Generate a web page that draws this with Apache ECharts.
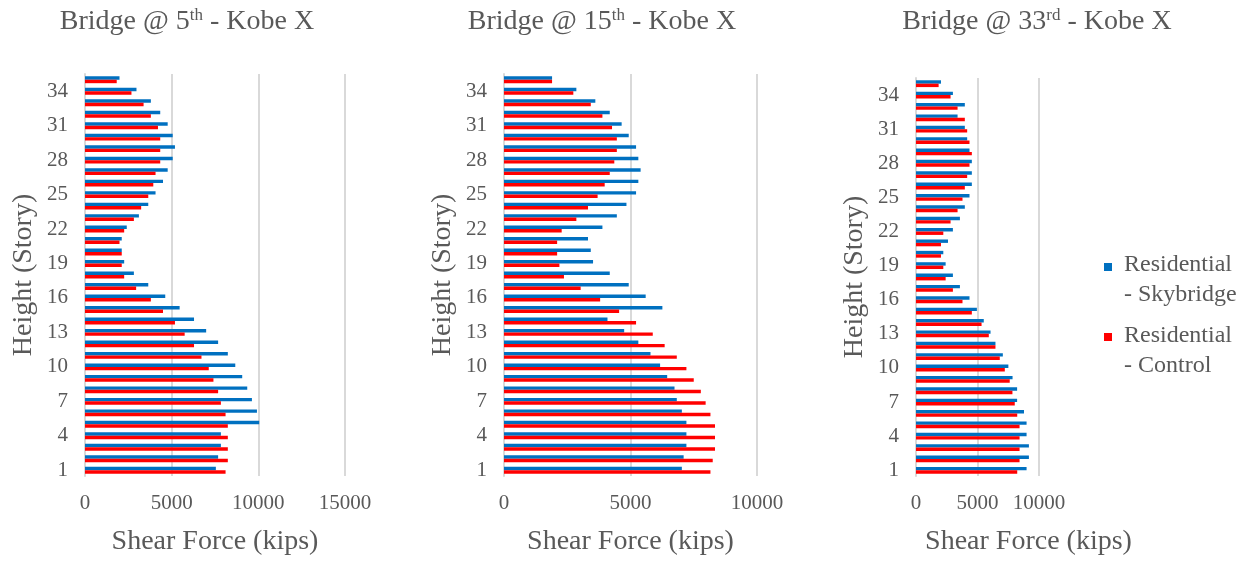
<!DOCTYPE html>
<html>
<head>
<meta charset="utf-8">
<script src="https://cdn.jsdelivr.net/npm/echarts@6/dist/echarts.min.js"></script>
<style>
html,body{margin:0;padding:0;background:#fff;}
#chart{width:1258px;height:561px;}
</style>
</head>
<body>
<div id="chart"></div>
<script>
// Stories (category axis), bottom to top
const stories = ['1','2','3','4','5','6','7','8','9','10','11','12','13','14','15','16','17','18','19','20','21','22','23','24','25','26','27','28','29','30','31','32','33','34','35'];

const seriesNames = ['Residential - Skybridge', 'Residential - Control'];
const panelTitles = ['5', '15', '33'];
const panelSuffix = ['th', 'th', 'rd'];
const xMax = [15000, 10000, 10000];

// Bridge @ 5th - Kobe X
const sky5 = [7550,7680,7840,7840,10050,9920,9630,9360,9070,8670,8240,7680,6990,6290,5460,4630,3650,2820,2260,2120,2120,2410,3110,3650,4070,4500,4770,5060,5190,5060,4770,4340,3800,2970,1990];
const ctl5 = [8110,8240,8240,8240,8240,8110,7840,7680,7410,7140,6720,6290,5750,5190,4500,3800,2950,2260,2120,2120,1990,2260,2820,3240,3650,3940,4070,4340,4340,4340,4210,3800,3380,2680,1830];

// Bridge @ 15th - Kobe X
const sky15 = [7030,7100,7210,7210,7210,7030,6830,6740,6450,6170,5790,5310,4750,4090,6260,5600,4930,4180,3520,3430,3320,3890,4460,4840,5220,5310,5400,5310,5220,4930,4650,4180,3610,2860,1900];
const ctl15 = [8160,8250,8340,8340,8340,8160,7970,7780,7500,7210,6830,6350,5880,5220,4550,3800,3030,2370,2190,2100,2100,2280,2860,3320,3700,3980,4180,4360,4460,4460,4270,3890,3430,2740,1900];

// Bridge @ 33rd - Kobe X
const sky33 = [8990,9180,9180,8990,8990,8780,8220,8220,7850,7510,7060,6460,6060,5510,4950,4350,3570,3000,2410,2220,2600,3000,3570,3970,4350,4540,4540,4540,4350,4160,3970,3380,3970,3000,2030];
const ctl33 = [8230,8420,8420,8420,8420,8230,8030,7840,7620,7220,6810,6460,5920,5330,4540,3780,3000,2410,2220,2030,2030,2220,2810,3380,3780,3970,4160,4350,4540,4350,4160,3970,3380,2810,1840];

const skyData = [sky5, sky15, sky33];
const ctlData = [ctl5, ctl15, ctl33];

const FONT = 'Liberation Serif';
const TXT = '#595959';
const BLUE = '#0070C0';
const RED = '#FF0000';
const GRIDC = '#d9d9d9';

const grids = [
  {left: 85, top: 74, width: 260, height: 404},
  {left: 504, top: 74, width: 253, height: 404},
  {left: 916, top: 78, width: 123, height: 403}
];
const titleCenters = [187, 602, 1037];
const xNamePadLeft = [0, 0, 102];

const option = {
  animation: false,
  backgroundColor: '#fff',
  title: panelTitles.map((t, i) => ({
    text: '{a|Bridge @ ' + t + '}{s|' + panelSuffix[i] + '}{a| - Kobe X}',
    left: titleCenters[i],
    top: 7,
    textAlign: 'center',
    padding: 0,
    textStyle: {
      fontWeight: 'normal',
      rich: {
        a: {fontFamily: FONT, fontSize: 28, fontWeight: 'normal', color: TXT, lineHeight: 30},
        s: {fontFamily: FONT, fontSize: 17, fontWeight: 'normal', color: TXT, verticalAlign: 'top', lineHeight: 18}
      }
    }
  })),
  grid: grids,
  xAxis: grids.map((g, i) => ({
    type: 'value',
    gridIndex: i,
    min: 0,
    max: xMax[i],
    interval: 5000,
    axisLine: {show: false},
    axisTick: {show: false},
    axisLabel: {fontFamily: FONT, fontSize: 21, color: TXT, margin: 17, formatter: v => String(v)},
    splitLine: {show: true, lineStyle: {color: GRIDC, width: 2}},
    name: 'Shear Force (kips)',
    nameLocation: 'middle',
    nameGap: 52,
    nameTextStyle: {fontFamily: FONT, fontSize: 28, color: TXT, padding: [0, 0, 0, xNamePadLeft[i]]}
  })),
  yAxis: grids.map((g, i) => ({
    type: 'category',
    gridIndex: i,
    data: stories,
    axisLine: {show: true, lineStyle: {color: GRIDC, width: 2}},
    axisTick: {show: false},
    axisLabel: {interval: 2, fontFamily: FONT, fontSize: 21, color: TXT, margin: 17},
    splitLine: {show: false},
    name: 'Height (Story)',
    nameLocation: 'middle',
    nameGap: 47,
    nameRotate: 90,
    nameTextStyle: {fontFamily: FONT, fontSize: 28, color: TXT}
  })),
  series: [].concat(...grids.map((g, i) => ([
    {
      name: seriesNames[0], type: 'bar', xAxisIndex: i, yAxisIndex: i,
      data: skyData[i], itemStyle: {color: BLUE},
      barGap: '0%', barCategoryGap: '40%', silent: true
    },
    {
      name: seriesNames[1], type: 'bar', xAxisIndex: i, yAxisIndex: i,
      data: ctlData[i], itemStyle: {color: RED},
      barGap: '0%', barCategoryGap: '40%', silent: true
    }
  ]))),
  graphic: [
    {type: 'rect', left: 1104, top: 263, shape: {width: 8, height: 8}, style: {fill: BLUE}},
    {type: 'text', left: 1124, top: 250, style: {text: 'Residential\n- Skybridge', fontFamily: FONT, fontSize: 24, lineHeight: 30, fill: TXT}},
    {type: 'rect', left: 1104, top: 333, shape: {width: 8, height: 8}, style: {fill: RED}},
    {type: 'text', left: 1124, top: 321, style: {text: 'Residential\n- Control', fontFamily: FONT, fontSize: 24, lineHeight: 30, fill: TXT}}
  ]
};

const chart = echarts.init(document.getElementById('chart'), null, {renderer: 'canvas'});
chart.setOption(option);
</script>
</body>
</html>
